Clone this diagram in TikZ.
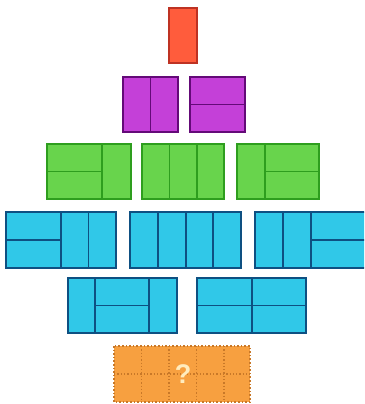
\documentclass[tikz,border=0pt]{standalone}
\usepackage{fontspec}
\setmainfont{Liberation Sans}
\begin{document}
\begin{tikzpicture}[x=1pt,y=-1pt,
  redb/.style={fill={rgb,255:red,255;green,92;blue,60},draw={rgb,255:red,190;green,50;blue,35},line width=1.3pt},
  purb/.style={fill={rgb,255:red,196;green,64;blue,216},draw={rgb,255:red,100;green,10;blue,120},line width=1.3pt},
  grnb/.style={fill={rgb,255:red,104;green,212;blue,76},draw={rgb,255:red,46;green,158;blue,30},line width=1.3pt},
  cyab/.style={fill={rgb,255:red,48;green,200;blue,232},draw={rgb,255:red,14;green,80;blue,130},line width=1.3pt},
  orab/.style={fill={rgb,255:red,247;green,160;blue,64},draw={rgb,255:red,200;green,120;blue,40},line width=1.6pt,dotted},
  oral/.style={draw={rgb,255:red,200;green,120;blue,40},line width=1.3pt,dotted},
]
\useasboundingbox (0,0) rectangle (364,404);
\begin{scope}
\clip (0,0) rectangle (364,404);
% row 1
\draw[redb] (169,8) rectangle (197,63);
% row 2
\draw[purb] (123,77) rectangle (178,132);
\draw[purb] (150.5,77) -- (150.5,132);
\draw[purb] (190,77) rectangle (245,132);
\draw[purb] (190,104.5) -- (245,104.5);
% row 3
\draw[grnb] (47,144) rectangle (131,199);
\draw[grnb] (102,144) -- (102,199) (47,171.5) -- (102,171.5);
\draw[grnb] (142,144) rectangle (224,199);
\draw[grnb] (169.5,144) -- (169.5,199) (197,144) -- (197,199);
\draw[grnb] (237,144) rectangle (319,199);
\draw[grnb] (265,144) -- (265,199) (265,171.5) -- (319,171.5);
% row 4
\draw[cyab] (6,212) rectangle (116,268);
\draw[cyab] (61,212) -- (61,268) (88.5,212) -- (88.5,268) (6,240) -- (61,240);
\draw[cyab] (130,212) rectangle (241,268);
\draw[cyab] (158,212) -- (158,268) (186,212) -- (186,268) (213,212) -- (213,268);
\draw[cyab] (255,212) rectangle (368,268);
\draw[cyab] (283,212) -- (283,268) (311,212) -- (311,268) (311,240) -- (368,240);
% row 5
\draw[cyab] (68,278) rectangle (177,333);
\draw[cyab] (95,278) -- (95,333) (149,278) -- (149,333) (95,305.5) -- (149,305.5);
\draw[cyab] (197,278) rectangle (306,333);
\draw[cyab] (252,278) -- (252,333) (197,305.5) -- (306,305.5);
% question
\draw[orab] (114,346) rectangle (250,402);
\draw[oral] (141.5,346) -- (141.5,402) (169,346) -- (169,402) (196.5,346) -- (196.5,402) (224,346) -- (224,402) (114,374) -- (250,374);
\node[text={rgb,255:red,255;green,236;blue,190},font=\bfseries\fontsize{27}{27}\selectfont] (q) at (183,374) {?};
\end{scope}
\end{tikzpicture}
\end{document}
